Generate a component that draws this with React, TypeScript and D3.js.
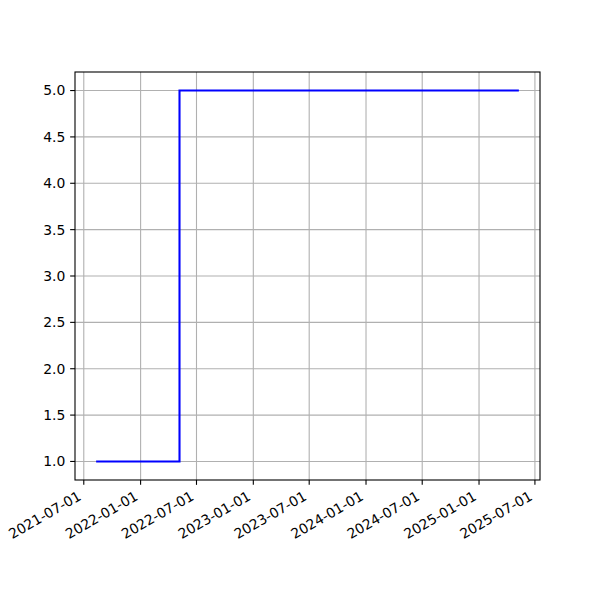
import React from "react";
import * as d3 from "d3";

const dates = ["2021-08-10", "2022-05-07", "2025-05-10"];
const values = [1, 5, 5];
const xTickLabels = [
  "2021-07-01", "2022-01-01", "2022-07-01", "2023-01-01", "2023-07-01",
  "2024-01-01", "2024-07-01", "2025-01-01", "2025-07-01",
];
const yTicks = [1.0, 1.5, 2.0, 2.5, 3.0, 3.5, 4.0, 4.5, 5.0];

const W = 600, H = 600;
const L = 75, R = 540, T = 72, B = 480;
const FONT = "'DejaVu Sans', sans-serif";
const FS = 13.9;

export default function App() {
  const parse = d3.utcParse("%Y-%m-%d");
  const pts = dates.map((d, i) => ({ x: parse(d) as Date, y: values[i] }));
  const xExt = d3.extent(pts, (p) => +p.x) as [number, number];
  const xPad = (xExt[1] - xExt[0]) * 0.05;
  const x = d3.scaleUtc().domain([new Date(xExt[0] - xPad), new Date(xExt[1] + xPad)]).range([L, R]);
  const yExt = d3.extent(values) as [number, number];
  const yPad = (yExt[1] - yExt[0]) * 0.05;
  const y = d3.scaleLinear().domain([yExt[0] - yPad, yExt[1] + yPad]).range([B, T]);

  const line = d3.line<{ x: Date; y: number }>()
    .x((p) => x(p.x))
    .y((p) => y(p.y))
    .curve(d3.curveStepAfter);

  const xTicks = xTickLabels.map((s) => ({ s, v: x(parse(s) as Date) }));
  const tickLen = 4.86;

  return (
    <svg width={W} height={H} style={{ position: "absolute", left: 0, top: 0 }} fontFamily={FONT}>
      <rect x={0} y={0} width={W} height={H} fill="white" />
      {/* grid */}
      <g stroke="#b0b0b0" strokeWidth={1.1}>
        {xTicks.map((t) => (
          <line key={t.s} x1={t.v} x2={t.v} y1={T} y2={B} />
        ))}
        {yTicks.map((t) => (
          <line key={t} x1={L} x2={R} y1={y(t)} y2={y(t)} />
        ))}
      </g>
      <path d={line(pts) || ""} fill="none" stroke="blue" strokeWidth={2.08} />
      {/* spines */}
      <rect x={L} y={T} width={R - L} height={B - T} fill="none" stroke="black" strokeWidth={1.1} />
      {/* x ticks */}
      <g>
        {xTicks.map((t) => (
          <g key={t.s}>
            <line x1={t.v} x2={t.v} y1={B} y2={B + tickLen} stroke="black" strokeWidth={1.1} />
            <text
              transform={`translate(${t.v - 1.6},${B + 19}) rotate(-30)`}
              textAnchor="end"
              fontSize={FS}
              fill="black"
            >
              {t.s}
            </text>
          </g>
        ))}
      </g>
      {/* y ticks */}
      <g>
        {yTicks.map((t) => (
          <g key={t}>
            <line x1={L - tickLen} x2={L} y1={y(t)} y2={y(t)} stroke="black" strokeWidth={1.1} />
            <text x={L - tickLen - 4.86} y={y(t)} dy="0.35em" textAnchor="end" fontSize={FS} fill="black">
              {t.toFixed(1)}
            </text>
          </g>
        ))}
      </g>
    </svg>
  );
}
